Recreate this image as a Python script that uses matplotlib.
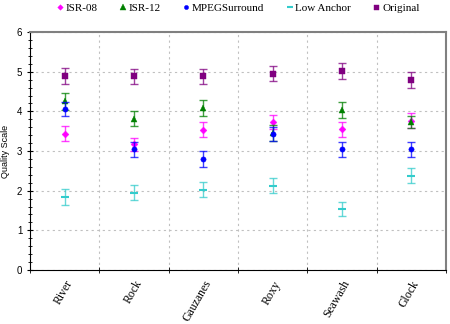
import matplotlib.pyplot as plt
from matplotlib.lines import Line2D
from matplotlib.ticker import MultipleLocator

categories = ["River", "Rock", "Gauzanes", "Roxy", "Seawash", "Glock"]

isr08 = [3.44, 3.17, 3.54, 3.73, 3.55, 3.77]
isr08_err = [0.19, 0.17, 0.19, 0.18, 0.19, 0.2]
isr12 = [4.25, 3.82, 4.09, 3.45, 4.03, 3.73]
isr12_err = [0.22, 0.19, 0.2, 0.2, 0.2, 0.16]
mpegs = [4.06, 3.05, 2.79, 3.43, 3.05, 3.05]
mpegs_err = [0.17, 0.19, 0.2, 0.18, 0.19, 0.19]
low = [1.85, 1.95, 2.02, 2.12, 1.54, 2.38]
low_err = [0.2, 0.19, 0.19, 0.19, 0.17, 0.19]
orig = [4.89, 4.89, 4.89, 4.95, 5.01, 4.79]
orig_err = [0.2, 0.19, 0.19, 0.19, 0.2, 0.2]

series = [
    ("ISR-08", isr08, isr08_err, "#ff00ff", "D", 3.5),
    ("ISR-12", isr12, isr12_err, "#008000", "^", 5),
    ("MPEGSurround", mpegs, mpegs_err, "#0000ff", "o", 3.8),
    ("Low Anchor", low, low_err, "#33cccc", "_", 6),
    ("Original", orig, orig_err, "#800080", "s", 4.5),
]

fig = plt.figure(figsize=(4.5, 3.24), dpi=100)
ax = fig.add_axes([0.0667, 0.1667, 0.9243, 0.7343])

x = [i + 0.5 for i in range(len(categories))]
handles = []
for name, vals, err, color, marker, ms in series:
    ax.errorbar(x, vals, yerr=err, fmt="none", ecolor=color, elinewidth=1.0,
                capsize=3, capthick=1.0, alpha=0.75)
    ax.plot(x, vals, linestyle="none", marker=marker, color=color, ms=ms,
            mew=1.5 if marker == "_" else 0.3)
    handles.append(Line2D([], [], linestyle="none", marker=marker, color=color,
                          ms=ms * 0.8, mew=1.5 if marker == "_" else 0.3))

ax.set_xlim(0, 6)
ax.set_ylim(0, 6)
ax.set_xticks(x)
ax.set_xticklabels(categories, rotation=60, ha="right", rotation_mode="anchor",
                   family="Liberation Serif", fontsize=8.5)
ax.tick_params(axis="x", length=0, pad=6)
ax.xaxis.set_minor_locator(MultipleLocator(1))
ax.tick_params(axis="x", which="minor", length=4, direction="inout")
ax.grid(True, axis="x", which="minor", color="#c0c0c0", linestyle=(0, (2, 3)), linewidth=0.8)

ax.yaxis.set_major_locator(MultipleLocator(1))
ax.yaxis.set_minor_locator(MultipleLocator(0.2))
ax.tick_params(axis="y", which="both", direction="inout", length=4, labelsize=7)
ax.tick_params(axis="y", which="minor", length=3)
ax.grid(True, axis="y", which="major", color="#c0c0c0", linestyle=(0, (2, 3)), linewidth=0.8)
for t in ax.get_yticklabels():
    t.set_family("Liberation Sans")
ax.set_ylabel("Quality Scale", family="Liberation Sans", fontsize=6.5, labelpad=5)

for s in ["top", "right"]:
    ax.spines[s].set_color("#808080")
    ax.spines[s].set_linewidth(1.5)
ax.set_axisbelow(True)

ax.legend(handles, [s[0] for s in series], loc="lower center",
          bbox_to_anchor=(0.5, 1.06), ncol=5, frameon=False,
          prop={"family": "Liberation Serif", "size": 8}, handlelength=0.6,
          handletextpad=0.2, columnspacing=2.0, borderaxespad=0)

plt.savefig("out.png", dpi=100)
plt.close()
